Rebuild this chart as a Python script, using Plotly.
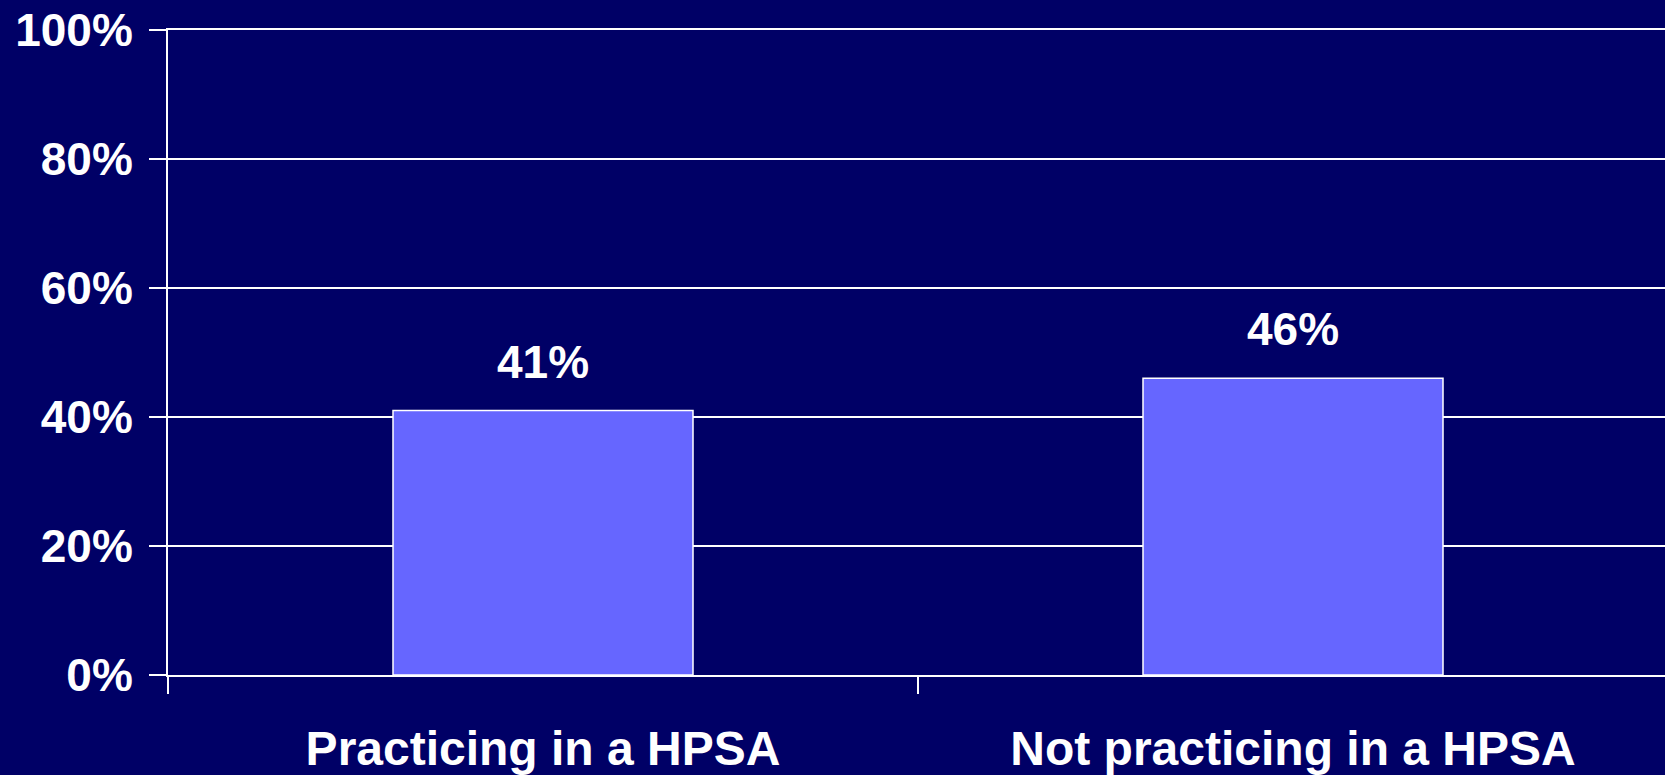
import plotly.graph_objects as go

# Slide-style colours
COLORS = {
    "background": "#000066",
    "bar": "#6666FF",
    "text": "#FFFFFF",
}

categories = ["Practicing in a HPSA", "Not practicing in a HPSA"]
values = [41, 46]
labels = ["41%", "46%"]
y_ticks = [0, 20, 40, 60, 80, 100]
y_tick_text = ["0%", "20%", "40%", "60%", "80%", "100%"]

FONT = dict(family="Liberation Sans, Arial, sans-serif", color=COLORS["text"], size=46, weight="bold")
CAT_FONT = dict(FONT, size=48)

fig = go.Figure(go.Bar(
    x=categories,
    y=values,
    width=0.4,
    marker=dict(color=COLORS["bar"], line=dict(color=COLORS["text"], width=1.5)),
    hoverinfo="skip",
))

# value labels above the bars
for cat, val, lab in zip(categories, values, labels):
    fig.add_annotation(
        x=cat, y=val, text=lab, showarrow=False,
        yanchor="bottom", yshift=21, font=FONT,
    )

fig.update_layout(
    width=1665,
    height=775,
    paper_bgcolor=COLORS["background"],
    plot_bgcolor=COLORS["background"],
    font=FONT,
    showlegend=False,
    margin=dict(l=168, r=0, t=30, b=100),
    xaxis=dict(
        type="category",
        range=[-0.5, 1.496],
        showgrid=False,
        showline=True, linecolor=COLORS["text"], linewidth=2,
        mirror=True,  # top line stands in for the 100% gridline
        ticks="outside", ticklen=17, tickwidth=2, tickcolor=COLORS["text"],
        tickson="boundaries",
        tickfont=CAT_FONT,
        ticklabelstandoff=30,
        zeroline=False,
    ),
    yaxis=dict(
        range=[0, 100],
        tickvals=y_ticks,
        ticktext=y_tick_text,
        showgrid=True, gridcolor=COLORS["text"], gridwidth=2,
        showline=True, linecolor=COLORS["text"], linewidth=2,
        ticks="outside", ticklen=17, tickwidth=2, tickcolor=COLORS["text"],
        tickfont=FONT,
        ticklabelstandoff=7,
        zeroline=False,
    ),
)

# drop the default page margin so the figure fills the window
fig.write_html(
    "out.html",
    config={"displayModeBar": False},
    post_script="document.body.style.margin='0';",
)
